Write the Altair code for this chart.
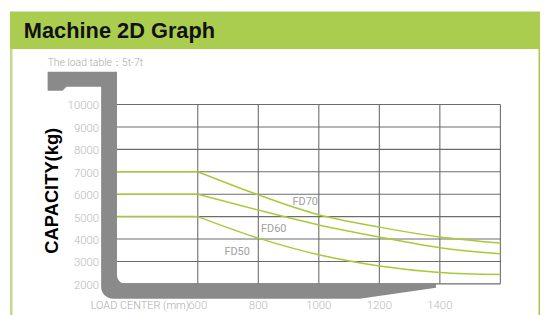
import altair as alt
import pandas as pd

# ---- data ----
load_centers = [600, 800, 1000, 1200, 1400, 1600]
x_left = 333
models = ["FD70", "FD60", "FD50"]
fd70 = [7000, 5970, 5080, 4530, 4090, 3820]
fd60 = [6000, 5290, 4630, 4090, 3610, 3340]
fd50 = [5000, 4040, 3300, 2800, 2510, 2420]
label_x = [955, 851, 730]
label_y = [5645, 4452, 3436]
x_ticks = [600, 800, 1000, 1200, 1400]
y_ticks = [2000, 3000, 4000, 5000, 6000, 7000, 8000, 9000, 10000]
grid_x = [600, 800, 1000, 1200, 1400, 1600]

series = {"FD70": fd70, "FD60": fd60, "FD50": fd50}
rows = []
for m in models:
    vals = series[m]
    rows.append({"model": m, "seg": m + "_flat", "x": x_left, "y": vals[0]})
    rows.append({"model": m, "seg": m + "_flat", "x": load_centers[0], "y": vals[0]})
    for xc, v in zip(load_centers, vals):
        rows.append({"model": m, "seg": m + "_curve", "x": xc, "y": v})
curves_df = pd.DataFrame(rows)
labels_df = pd.DataFrame({"model": models, "x": label_x, "y": label_y})
xt_df = pd.DataFrame({"x": x_ticks, "t": [str(v) for v in x_ticks]})
yt_df = pd.DataFrame({"y": y_ticks, "t": [str(v) for v in y_ticks]})

W, H = 387, 181
OX, OY = 118, 104  # page position of plot origin (for decorations)

GREEN = "#aacd50"
LINE_GREEN = "#a6cb38"
GRAY = "#8a8a8a"
LIGHT = "#b8b8b8"
FONT = "Liberation Sans"
THIN = "Roboto"

xs = alt.Scale(domain=[x_left, 1600], nice=False, zero=False)
ys = alt.Scale(domain=[2000, 10000], nice=False, zero=False)

one = alt.Data(values=[{"a": 0}])

def px(v):
    return v - OX

def py(v):
    return v - OY

header = alt.Chart(one).mark_rect(color=GREEN).encode(
    x=alt.value(px(10)), x2=alt.value(px(545)),
    y=alt.value(py(10)), y2=alt.value(py(48)))
left_border = alt.Chart(one).mark_rect(color="#bfdb8f").encode(
    x=alt.value(px(10)), x2=alt.value(px(12.5)),
    y=alt.value(py(48)), y2=alt.value(py(320)))
right_border = alt.Chart(one).mark_rect(color="#a5cc45").encode(
    x=alt.value(px(543.5)), x2=alt.value(px(545)),
    y=alt.value(py(48)), y2=alt.value(py(320)))

title = alt.Chart(one).mark_text(
    text="Machine 2D Graph", font=FONT, fontSize=22, fontWeight="bold",
    color="#111111", align="left", baseline="alphabetic").encode(
    x=alt.value(px(24)), y=alt.value(py(36.5)))
subtitle = alt.Chart(one).mark_text(
    text="The load table：5t-7t", font=THIN, fontWeight=300, fontSize=10.5,
    color="#aaaaaa", align="left", baseline="alphabetic").encode(
    x=alt.value(px(48)), y=alt.value(py(65)))
ytitle = alt.Chart(one).mark_text(
    text="CAPACITY(kg)", font=FONT, fontSize=18.5, fontWeight="bold",
    color="#000000", align="center", baseline="middle", angle=270).encode(
    x=alt.value(px(52)), y=alt.value(py(191)))
xtitle = alt.Chart(one).mark_text(
    text="LOAD CENTER (mm)", font=THIN, fontWeight=300, fontSize=11,
    color="#aaaaaa", align="right", baseline="middle").encode(
    x=alt.value(px(191)), y=alt.value(py(307.5)))

# gray forklift-mast frame
pts = [("M", 48, 71), ("L", 118, 71), ("L", 118, 276), ("A9", 127, 285),
       ("L", 440, 285), ("L", 440, 289), ("L", 363, 300), ("L", 114, 300),
       ("A12", 102, 288), ("L", 102, 86), ("L", 67, 86), ("L", 63, 90),
       ("L", 48, 90)]
parts = []
for cmd, a, b in pts:
    xa, yb = a - OX, b - OY
    if cmd == "A9":
        parts.append(f"A 9 9 0 0 0 {xa} {yb}")
    elif cmd == "A12":
        parts.append(f"A 12 12 0 0 1 {xa} {yb}")
    else:
        parts.append(f"{cmd} {xa} {yb}")
mast_path = " ".join(parts) + " Z"
mast = alt.Chart(one).mark_point(
    shape=mast_path, size=4, filled=True, color=GRAY, opacity=1,
    strokeWidth=0).encode(x=alt.value(0), y=alt.value(0))

vgrid = alt.Chart(pd.DataFrame({"x": grid_x})).mark_rule(
    color="#6c6c6c", strokeWidth=1.1).encode(
    x=alt.X("x:Q", scale=xs, axis=None))
hgrid = alt.Chart(pd.DataFrame({"y": y_ticks})).mark_rule(
    color="#6c6c6c", strokeWidth=1.1).encode(
    y=alt.Y("y:Q", scale=ys, axis=None))

xlabels = alt.Chart(xt_df).mark_text(
    font=THIN, fontWeight=300, fontSize=11.5, color=LIGHT,
    align="center", baseline="middle").encode(
    x=alt.X("x:Q", scale=xs, axis=None), y=alt.value(H + 22.5), text="t:N")
ylabels = alt.Chart(yt_df).mark_text(
    font=THIN, fontWeight=300, fontSize=11.5, color=LIGHT,
    align="right", baseline="middle", dy=2).encode(
    y=alt.Y("y:Q", scale=ys, axis=None), x=alt.value(-18), text="t:N")

curves = alt.Chart(curves_df).mark_line(
    color=LINE_GREEN, strokeWidth=1.5, interpolate="monotone").encode(
    x=alt.X("x:Q", scale=xs, axis=None),
    y=alt.Y("y:Q", scale=ys, axis=None), detail="seg:N")

labels = alt.Chart(labels_df).mark_text(
    font=THIN, fontSize=11, color="#a0a0a0", align="center",
    baseline="middle").encode(
    x=alt.X("x:Q", scale=xs, axis=None),
    y=alt.Y("y:Q", scale=ys, axis=None), text="model:N")

chart = alt.layer(
    header, left_border, right_border, vgrid, hgrid, mast,
    curves, labels, xlabels, ylabels, title, subtitle, ytitle, xtitle
).properties(
    width=W, height=H,
    autosize=alt.AutoSizeParams(type="none"),
    padding={"left": 110, "top": 96, "right": 41, "bottom": 30},
    background="white",
).configure_view(stroke=None)

chart.save("out.html", embed_options={"renderer": "svg", "actions": False})
